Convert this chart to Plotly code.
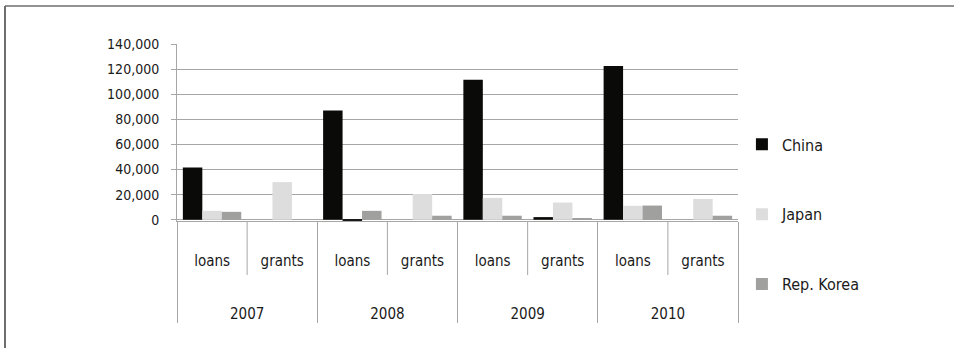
import plotly.graph_objects as go

years = ["2007", "2008", "2009", "2010"]
kinds = ["loans", "grants"]
series_names = ["China", "Japan", "Rep. Korea"]

# values ordered: 2007 loans, 2007 grants, 2008 loans, 2008 grants, ...
china = [41700, 0, 87000, 0, 111500, 2100, 122400, 0]
japan = [7100, 30000, -800, 20500, 17400, 13700, 11100, 16600]
korea = [6300, 0, 7100, 3200, 3200, 800, 11300, 3200]

colors = ["#0a0a08", "#dcdddc", "#a0a09e"]
FONT = "DejaVu Sans Condensed, Roboto, sans-serif"
NB = "\u00a0"

# padded labels so the two label rows sit as in the original
outer = [NB + "<br>" + y for y in years for _ in kinds]
inner = [NB + "<br>" + k + "<br>" + NB for _ in years for k in kinds]

fig = go.Figure()
for i, (name, vals) in enumerate(zip(series_names, [china, japan, korea])):
    cols = [colors[i] if v >= 0 else "#1a1a1a" for v in vals]
    fig.add_trace(go.Bar(
        x=[outer, inner], y=vals, name=name,
        marker=dict(color=cols, line=dict(width=0)),
        legendgroup=name,
    ))

# inner separators between loans / grants
for k in range(len(years)):
    fx = (2 * k + 1) / (2 * len(years))
    fig.add_shape(type="line", xref="x domain", yref="y domain",
                  x0=fx, x1=fx, y0=0, y1=-0.305,
                  line=dict(color="#a6a6a6", width=1))

# frame lines of the original figure box
fig.add_shape(type="line", xref="paper", yref="paper",
              x0=(5 - 177) / 561, x1=(954 - 177) / 561,
              y0=1 + (44 - 6) / 177, y1=1 + (44 - 6) / 177,
              line=dict(color="#6e6e6e", width=1.5))
fig.add_shape(type="line", xref="paper", yref="paper",
              x0=(5 - 177) / 561, x1=(5 - 177) / 561,
              y0=1 + (44 - 6) / 177, y1=-(348 - 221) / 177,
              line=dict(color="#6e6e6e", width=2))

fig.update_layout(
    width=954, height=348,
    margin=dict(l=177, r=216, t=44, b=127),
    paper_bgcolor="white", plot_bgcolor="white",
    barmode="group", bargap=0.167, bargroupgap=0,
    font=dict(family=FONT, size=14, color="#1a1a1a"),
    showlegend=True,
    legend=dict(x=1.007, xanchor="left", y=0.037, yanchor="middle",
                tracegroupgap=46, font=dict(size=16),
                bgcolor="rgba(0,0,0,0)"),
    xaxis=dict(type="multicategory", showline=True, linecolor="#a6a6a6",
               linewidth=1, showgrid=False, showdividers=True,
               dividercolor="#a6a6a6", dividerwidth=1,
               tickfont=dict(size=15), ticks="outside", ticklen=14,
               tickcolor="rgba(0,0,0,0)", ticklabelstandoff=6),
    yaxis=dict(range=[-1000, 140000], tick0=0, dtick=20000, tickformat=",",
               showgrid=True, gridcolor="#a6a6a6", gridwidth=1.3,
               showline=True, linecolor="#a6a6a6", linewidth=1,
               ticks="outside", ticklen=5, tickcolor="#a6a6a6",
               ticklabelstandoff=9,
               zeroline=False, tickfont=dict(size=14)),
)

fig.write_html("out.html")
